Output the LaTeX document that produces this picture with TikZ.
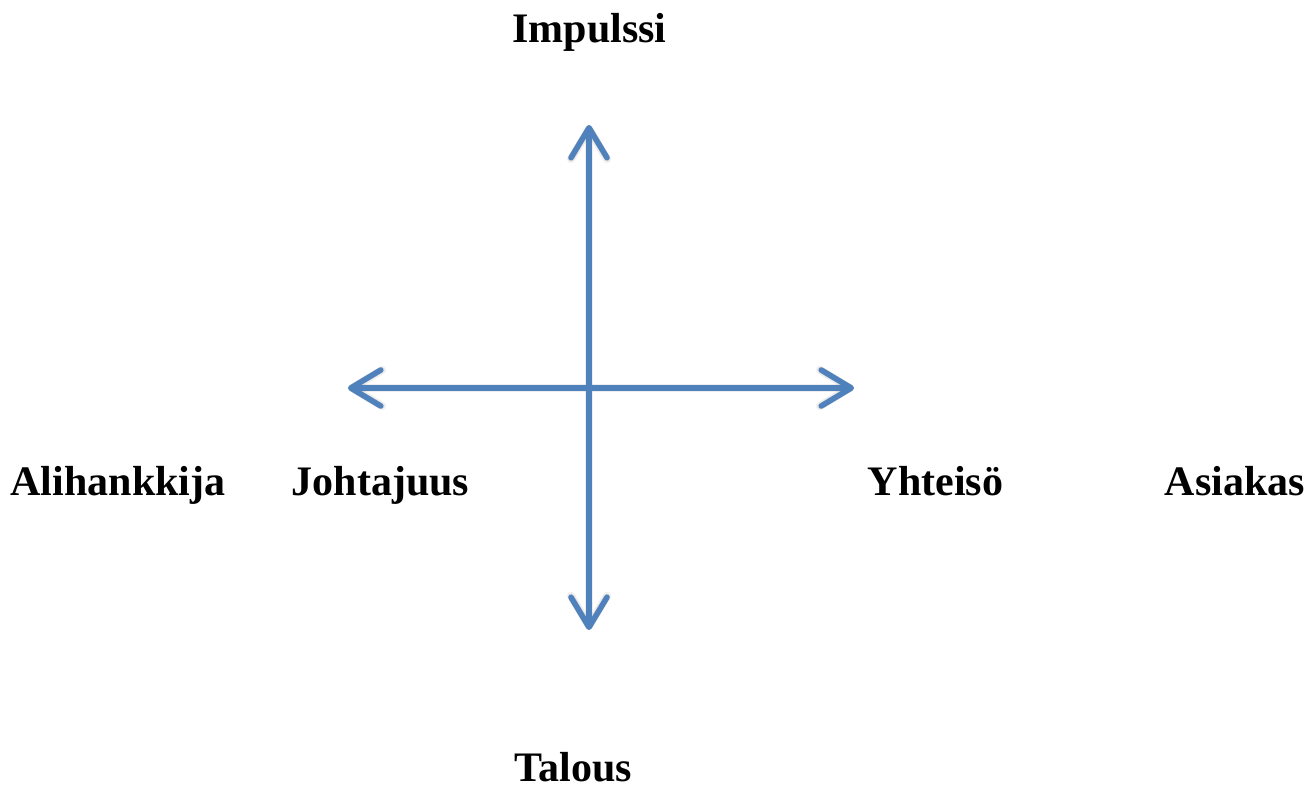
\documentclass[tikz,border=0pt]{standalone}
\usepackage{fontspec}
\setmainfont{Liberation Serif}
\usetikzlibrary{arrows.meta}
\definecolor{axisblue}{HTML}{4F81BD}
\tikzset{
  barb/.tip={Straight Barb[length=30pt,width=36pt,line cap=round,line join=round]},
  axis/.style={draw=axisblue, line width=5.5pt, line cap=round, {barb}-{barb}},
  axshadow/.style={draw=black, line width=8pt, line cap=round, opacity=0.07, {barb}-{barb}},
  lbl/.style={anchor=base, inner sep=0pt, font=\bfseries\fontsize{42}{50}\selectfont}
}
\begin{document}
\begin{tikzpicture}[x=1pt,y=-1pt]
\useasboundingbox (0,0) rectangle (1316,792);
% endpoints
\coordinate (top) at (589,125);
\coordinate (bot) at (589,630);
\coordinate (lft) at (348,388);
\coordinate (rgt) at (854,388);
% shadows
\begin{scope}[shift={(5,5)}]
\draw[axshadow] (bot) -- (top);
\draw[axshadow] (lft) -- (rgt);
\end{scope}
\begin{scope}[shift={(3,3)}]
\draw[axshadow, line width=6pt, opacity=0.1] (bot) -- (top);
\draw[axshadow, line width=6pt, opacity=0.1] (lft) -- (rgt);
\end{scope}
% axes
\draw[axis] (bot) -- (top);
\draw[axis] (lft) -- (rgt);
% labels
\node[lbl] (impulssi) at (589.5,43) {Impulssi};
\node[lbl] (alihankkija) at (118,495) {Alihankkija};
\node[lbl] (johtajuus) at (380.5,495) {Johtajuus};
\node[lbl] (yhteiso) at (935.5,495) {Yhteisö};
\node[lbl] (asiakas) at (1235,495) {Asiakas};
\node[lbl] (talous) at (573,781) {Talous};
\end{tikzpicture}
\end{document}
